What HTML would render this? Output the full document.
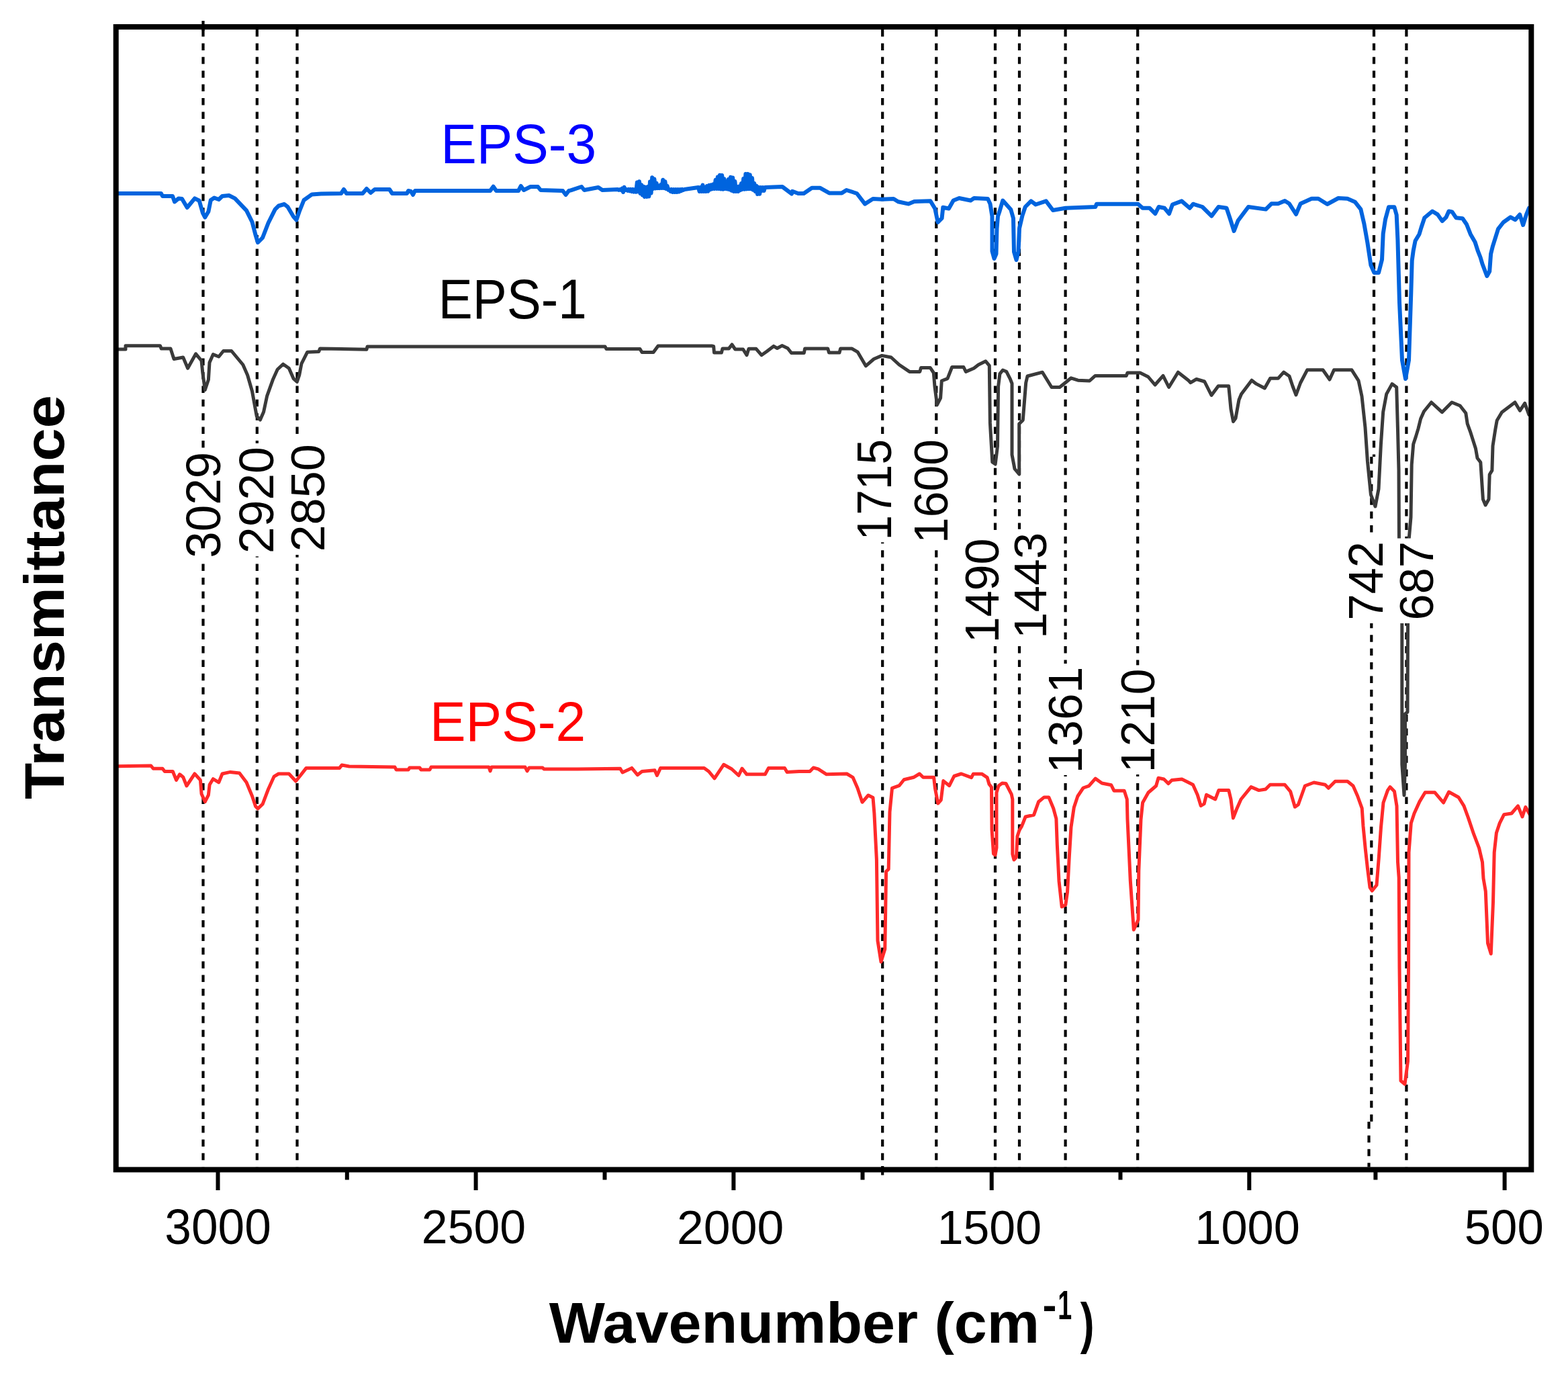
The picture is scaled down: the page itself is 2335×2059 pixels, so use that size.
<!DOCTYPE html><html><head><meta charset="utf-8"><title>FTIR spectra</title>
<style>html,body{margin:0;padding:0;background:#fff;}svg{display:block;}text{font-family:"Liberation Sans",Arial,sans-serif;}</style></head><body>
<svg width="2335" height="2059" viewBox="0 0 2335 2059">
<rect width="2335" height="2059" fill="#fff"/>
<g stroke="#000" stroke-width="4.2" stroke-dasharray="10.5 9.9" fill="none">
<line x1="302.5" y1="44.0" x2="302.5" y2="1737.4"/>
<line x1="382.8" y1="44.0" x2="382.8" y2="1737.4"/>
<line x1="442.5" y1="44.0" x2="442.5" y2="1737.4"/>
<line x1="1314.2" y1="44.0" x2="1314.2" y2="1737.4"/>
<line x1="1394.3" y1="44.0" x2="1394.3" y2="1737.4"/>
<line x1="1482.0" y1="44.0" x2="1482.0" y2="1737.4"/>
<line x1="1518.0" y1="44.0" x2="1518.0" y2="1737.4"/>
<line x1="1586.6" y1="44.0" x2="1586.6" y2="1737.4"/>
<line x1="1694.2" y1="44.0" x2="1694.2" y2="1737.4"/>
<line x1="2046" y1="44.0" x2="2046" y2="680"/>
<line x1="2042.3" y1="680" x2="2042.3" y2="1670"/>
<line x1="2038.5" y1="1670" x2="2038.5" y2="1737.4"/>
<line x1="2094.4" y1="44.0" x2="2094.4" y2="1737.4"/>
<line x1="302.5" y1="31" x2="302.5" y2="46" stroke-dasharray="none"/>
<line x1="1314.2" y1="1736" x2="1314.2" y2="1749.5" stroke-dasharray="none"/>
</g>
<g fill="none" stroke-linejoin="round" stroke-linecap="round">
<polyline stroke="#0064de" stroke-width="6" points="176.0,288.0 240.0,288.0 242.0,292.0 257.0,292.0 260.0,300.5 266.0,295.4 271.0,296.0 278.7,309.0 290.0,295.4 296.7,298.8 301.8,316.8 305.3,323.5 310.4,315.0 313.8,298.0 319.0,294.5 325.8,297.0 331.0,292.0 341.0,291.0 349.8,295.4 367.0,313.4 375.5,330.5 380.6,350.0 384.0,361.0 391.0,354.0 399.5,332.0 409.7,311.6 414.9,306.5 423.4,304.0 428.6,308.2 437.0,322.6 441.4,327.5 445.7,315.0 452.5,298.0 464.5,289.4 478.0,288.5 508.0,288.0 512.0,282.0 516.0,288.0 540.0,288.0 546.0,281.0 552.0,287.0 558.0,282.0 580.0,282.0 584.0,288.0 606.0,288.0 608.0,284.0 612.0,285.0 615.0,290.0 618.0,284.0 730.0,284.0 734.6,277.7 739.0,284.0 772.0,284.0 775.7,277.0 780.0,283.0 790.0,278.0 801.0,278.0 805.0,283.0 838.0,284.0 842.5,290.0 847.0,284.0 850.0,283.4 866.0,278.0 870.0,283.0 891.0,279.0 897.0,283.0 920.0,282.0 921.6,283.0 923.2,282.0 924.8,283.0 926.4,280.6 928.0,286.0 929.6,278.7 931.2,283.0 932.8,282.0 934.4,283.7 936.0,282.0 937.6,284.3 939.2,282.0 940.8,285.0 942.4,282.0 944.0,285.6 945.6,282.0 947.2,285.7 948.8,271.5 950.4,285.3 952.0,270.2 953.6,287.9 955.2,275.2 956.8,290.4 958.4,277.7 960.0,293.0 961.6,278.7 963.2,293.0 964.8,278.0 966.4,292.4 968.0,270.5 969.6,287.6 971.2,264.3 972.8,280.9 974.4,266.6 976.0,280.5 977.6,272.6 979.2,280.1 980.8,277.4 982.4,280.0 984.0,275.0 985.6,280.0 987.2,267.7 988.8,280.0 990.4,270.3 992.0,281.0 993.6,276.7 995.2,282.6 996.8,282.0 998.4,284.8 1000.0,282.0 1001.6,286.0 1003.2,282.0 1004.8,286.0 1006.4,282.0 1008.0,286.0 1009.6,282.0 1011.2,285.5 1012.8,282.0 1014.4,284.2 1016.0,282.0 1017.6,283.0 1019.2,282.0 1040.0,279.0 1041.6,285.0 1043.2,279.0 1044.8,285.0 1046.4,275.5 1048.0,285.0 1049.6,278.7 1051.2,285.0 1052.8,277.1 1054.4,284.7 1056.0,275.9 1057.6,282.3 1059.2,275.4 1060.8,281.3 1062.4,274.2 1064.0,281.0 1065.6,267.8 1067.2,281.0 1068.8,263.5 1070.4,281.1 1072.0,260.7 1073.6,281.6 1075.2,261.0 1076.8,281.8 1078.4,266.3 1080.0,281.0 1081.6,270.2 1083.2,281.5 1084.8,267.1 1086.4,282.2 1088.0,263.8 1089.6,283.8 1091.2,264.5 1092.8,285.0 1094.4,270.0 1096.0,285.0 1097.6,278.0 1099.2,285.0 1100.8,277.6 1102.4,283.2 1104.0,273.0 1105.6,281.9 1107.2,266.0 1108.8,281.7 1110.4,259.0 1112.0,281.4 1113.6,259.0 1115.2,281.2 1116.8,260.2 1118.4,281.2 1120.0,265.0 1121.6,282.8 1123.2,273.0 1124.8,285.0 1126.4,276.6 1128.0,289.0 1129.6,278.7 1131.2,288.7 1132.8,279.0 1134.4,284.0 1136.0,279.0 1137.6,284.0 1139.2,279.0 1165.0,278.0 1179.0,288.5 1180.0,284.8 1188.6,288.0 1197.0,288.0 1209.0,279.7 1221.0,279.7 1234.8,287.4 1253.6,287.4 1260.5,283.0 1276.0,288.0 1282.7,296.8 1288.0,303.6 1300.0,296.0 1313.6,296.8 1330.7,296.0 1337.5,300.2 1353.0,303.6 1361.5,300.0 1385.5,299.3 1392.3,310.5 1396.6,331.0 1402.6,325.0 1404.3,308.8 1412.9,310.5 1419.7,298.5 1428.3,295.0 1445.4,298.5 1450.5,295.0 1471.0,296.0 1474.5,303.6 1477.5,322.0 1477.5,374.0 1480.5,385.0 1483.5,378.0 1484.5,340.0 1486.0,322.0 1488.2,315.6 1493.3,298.5 1505.3,312.0 1509.0,325.0 1510.0,375.0 1513.5,387.0 1516.5,375.0 1518.0,340.0 1522.5,320.8 1526.8,308.0 1535.4,299.4 1542.3,304.5 1557.7,299.4 1568.0,313.0 1586.8,309.7 1631.3,308.0 1633.0,303.7 1694.7,303.7 1701.5,309.7 1711.8,309.7 1720.3,318.2 1725.5,308.0 1734.0,309.7 1741.0,318.2 1746.0,304.5 1759.7,299.4 1771.7,309.7 1776.8,303.7 1790.5,308.0 1804.2,321.6 1814.5,308.0 1826.5,309.7 1831.6,325.0 1837.6,344.0 1843.6,328.5 1859.0,308.0 1885.0,311.6 1893.3,303.3 1903.3,303.3 1913.3,299.0 1920.0,303.3 1930.0,319.0 1936.6,303.3 1953.2,295.8 1963.2,295.8 1976.5,304.0 1993.0,295.0 2006.5,295.8 2018.0,300.8 2026.4,311.6 2031.4,333.2 2036.4,361.5 2041.4,394.8 2046.4,406.0 2053.0,406.0 2058.0,386.5 2059.7,348.0 2063.0,326.6 2068.0,308.3 2076.4,308.3 2079.7,320.0 2081.4,356.5 2084.0,449.8 2088.0,536.3 2093.0,564.0 2098.0,536.3 2101.3,436.4 2102.7,387.8 2104.7,373.2 2107.6,358.5 2113.5,348.7 2116.4,339.0 2121.3,324.2 2133.0,314.5 2140.9,319.4 2147.7,329.1 2153.6,323.3 2157.5,314.5 2162.4,315.4 2168.3,324.2 2178.0,325.2 2184.0,334.0 2189.8,348.7 2196.6,360.5 2200.6,373.2 2204.5,383.0 2207.4,392.7 2214.3,411.0 2218.2,404.0 2220.1,378.0 2223.0,366.3 2227.0,353.6 2231.0,340.9 2238.7,331.0 2249.5,323.3 2256.3,327.2 2263.2,319.4 2268.1,335.0 2273.0,319.4 2277.0,309.6"/>
<polyline stroke="#3a3a3a" stroke-width="5" points="176.0,520.0 187.0,520.0 187.0,514.8 238.5,514.8 240.2,519.0 254.0,519.0 259.0,534.5 272.7,532.0 279.6,548.2 291.6,526.8 300.0,537.0 301.8,555.0 305.3,580.5 310.4,565.3 312.0,539.7 317.3,527.7 325.8,531.0 332.7,522.5 344.7,522.5 361.8,543.0 368.6,558.5 375.5,582.5 378.9,601.3 382.3,619.8 387.5,625.0 392.6,613.3 397.7,589.3 406.3,565.3 413.2,550.0 421.7,542.2 430.3,548.2 437.0,563.6 442.3,568.5 445.7,558.5 449.0,541.4 457.7,524.2 474.8,523.4 476.5,519.0 546.0,520.2 547.0,516.0 901.0,516.0 903.0,519.4 953.0,519.4 956.0,524.5 973.0,524.5 980.0,515.0 1060.6,515.0 1062.7,515.7 1063.5,525.1 1074.4,525.1 1076.0,518.9 1085.4,518.9 1090.0,513.0 1094.8,520.0 1106.5,520.0 1112.0,528.7 1115.0,519.3 1126.0,519.3 1134.0,528.7 1141.8,523.2 1152.0,515.4 1157.4,518.5 1164.5,514.6 1173.0,518.5 1178.5,525.5 1197.3,525.5 1198.6,519.1 1232.8,519.1 1234.5,525.1 1250.0,525.1 1251.6,519.1 1268.8,519.1 1277.3,524.2 1289.3,544.8 1301.3,534.5 1313.3,529.4 1327.0,532.0 1339.0,543.0 1354.4,553.4 1369.8,553.4 1371.5,547.4 1385.2,547.4 1390.3,555.0 1392.0,575.6 1395.5,602.7 1400.6,592.7 1402.3,567.0 1411.0,563.6 1417.7,546.5 1434.9,546.5 1438.3,553.4 1450.3,548.2 1457.1,543.0 1467.8,537.8 1473.3,544.4 1474.4,629.9 1477.8,688.0 1482.2,691.0 1485.5,664.3 1486.6,575.5 1488.9,556.6 1493.3,551.0 1498.8,553.3 1504.4,564.4 1507.0,571.0 1507.0,677.0 1511.0,698.0 1517.7,706.0 1517.7,631.0 1523.3,625.4 1525.5,597.7 1527.7,570.0 1530.0,560.0 1552.3,554.2 1566.0,576.5 1578.0,576.5 1586.5,569.7 1595.0,562.8 1605.3,566.2 1622.5,567.0 1631.0,559.4 1677.3,559.4 1679.0,555.0 1697.8,555.0 1709.8,561.0 1720.0,573.0 1732.0,559.4 1740.6,576.5 1754.3,554.2 1769.7,566.2 1773.0,569.7 1781.7,564.5 1793.7,568.0 1804.0,588.5 1814.2,574.8 1829.7,574.8 1833.0,609.0 1836.5,627.6 1840.0,622.7 1845.0,595.3 1848.5,586.8 1864.0,566.2 1870.7,571.4 1883.3,578.0 1891.6,563.3 1903.3,563.3 1911.6,554.1 1920.0,560.0 1925.0,575.0 1930.0,588.0 1936.6,570.0 1946.6,550.8 1970.0,550.8 1980.0,565.0 1986.5,550.8 2013.0,550.8 2023.0,566.6 2028.0,590.0 2033.0,636.5 2036.4,686.4 2041.4,736.4 2048.0,754.0 2053.0,728.0 2056.4,661.5 2059.7,613.2 2064.7,586.6 2073.0,571.6 2079.7,576.6 2081.4,636.5 2083.0,700.0 2083.5,816.0 2087.8,929.0 2087.8,1138.0 2091.0,1184.0 2092.5,1140.0 2092.5,1063.0 2096.0,1060.0 2096.5,929.0 2097.0,816.0 2101.0,770.0 2102.2,691.9 2104.7,661.3 2108.3,650.4 2112.0,638.1 2115.6,623.5 2120.5,612.5 2131.5,599.0 2147.4,613.7 2162.0,599.0 2174.2,604.0 2182.8,615.0 2185.2,630.8 2190.0,644.2 2197.4,667.4 2200.0,682.0 2204.8,688.2 2206.0,706.5 2208.4,743.2 2212.1,752.0 2217.0,743.2 2218.2,706.5 2221.9,700.4 2223.0,663.8 2226.8,639.4 2229.2,626.0 2236.5,613.7 2256.0,599.0 2263.4,611.3 2270.7,600.3 2276.8,617.4"/>
<polyline stroke="#ff2a2a" stroke-width="5" points="176.0,1140.8 224.8,1140.0 228.2,1144.2 242.0,1144.2 245.3,1148.5 257.3,1148.5 262.5,1161.4 267.6,1152.8 272.7,1157.0 277.9,1170.0 289.9,1152.0 298.4,1161.4 300.1,1182.0 305.3,1193.6 310.4,1183.6 312.1,1168.2 317.3,1159.7 325.8,1164.8 331.0,1152.0 343.0,1149.4 356.6,1151.0 367.0,1164.8 375.5,1185.3 380.6,1200.5 384.0,1203.9 391.0,1197.3 399.5,1175.0 408.0,1156.2 414.9,1152.0 430.3,1152.0 440.5,1163.0 447.4,1154.5 456.0,1143.4 505.6,1143.4 509.0,1139.0 520.0,1141.0 588.0,1142.0 590.0,1146.0 608.0,1146.0 610.0,1143.0 625.0,1143.0 627.0,1146.0 640.0,1146.0 642.0,1142.0 728.0,1142.0 730.0,1148.0 732.0,1142.0 782.0,1142.0 785.0,1148.0 788.0,1143.0 808.0,1143.0 810.0,1145.0 860.0,1145.0 923.6,1144.2 927.0,1150.0 940.8,1143.4 949.3,1153.7 956.0,1148.5 975.0,1146.8 978.4,1154.5 983.6,1143.4 1048.6,1143.4 1055.5,1148.5 1064.0,1158.8 1077.7,1138.3 1089.7,1145.0 1100.0,1154.5 1105.0,1144.2 1112.0,1152.8 1139.4,1152.8 1144.5,1143.4 1168.5,1143.4 1172.0,1149.4 1190.0,1148.4 1206.0,1148.4 1211.3,1143.0 1218.4,1144.9 1230.8,1152.8 1261.0,1152.0 1270.0,1157.3 1277.0,1173.3 1284.0,1194.3 1293.0,1184.0 1300.0,1187.5 1301.9,1210.6 1305.4,1279.8 1307.0,1400.5 1312.0,1432.0 1317.8,1413.0 1319.6,1297.6 1323.2,1294.0 1325.0,1208.8 1328.5,1173.3 1339.0,1169.7 1346.2,1160.8 1360.5,1157.3 1369.3,1152.0 1374.7,1157.3 1390.6,1157.3 1392.4,1173.3 1396.8,1196.1 1401.3,1191.0 1404.8,1162.6 1413.7,1169.7 1420.8,1155.5 1431.5,1152.0 1446.6,1157.7 1449.4,1152.2 1462.0,1152.2 1470.2,1157.7 1473.0,1167.5 1476.5,1172.0 1477.0,1235.0 1479.5,1271.0 1482.0,1273.0 1484.0,1262.0 1484.0,1180.0 1487.0,1170.0 1492.4,1166.0 1498.0,1166.5 1506.3,1182.7 1507.8,1190.0 1507.8,1271.5 1510.0,1280.0 1513.5,1276.0 1515.0,1245.0 1518.0,1236.0 1521.6,1229.9 1527.1,1216.0 1539.6,1213.2 1546.5,1193.8 1554.9,1186.9 1561.8,1186.9 1568.7,1203.5 1572.9,1218.8 1574.3,1257.6 1577.0,1311.7 1581.2,1350.0 1586.8,1347.2 1589.5,1328.4 1592.3,1275.7 1595.0,1231.3 1599.3,1202.1 1604.8,1185.5 1613.1,1173.0 1621.5,1170.2 1631.2,1159.1 1640.9,1166.0 1654.8,1168.8 1658.9,1177.2 1674.2,1177.2 1678.3,1190.0 1679.0,1219.9 1683.3,1311.4 1688.3,1384.3 1695.0,1369.3 1695.8,1296.4 1699.0,1219.9 1701.6,1195.0 1710.0,1180.0 1721.6,1170.0 1725.0,1158.3 1733.2,1160.0 1740.0,1166.6 1745.0,1161.6 1760.0,1160.0 1776.5,1168.3 1783.2,1183.3 1788.2,1199.6 1793.2,1196.6 1796.5,1183.3 1809.8,1190.0 1814.8,1176.6 1829.8,1176.6 1833.0,1190.0 1836.4,1217.9 1841.4,1205.0 1848.0,1190.0 1863.0,1171.6 1874.7,1176.6 1884.7,1175.0 1891.4,1168.3 1913.3,1168.3 1921.6,1178.3 1928.3,1201.3 1933.3,1198.0 1943.3,1170.0 1956.6,1165.0 1973.3,1168.3 1978.3,1173.3 1988.3,1163.3 2006.6,1163.3 2015.0,1170.0 2021.6,1185.0 2028.2,1203.3 2030.0,1230.0 2033.2,1263.2 2036.5,1293.2 2040.0,1321.2 2043.2,1326.2 2050.0,1317.8 2053.2,1278.2 2056.5,1231.6 2060.0,1195.0 2066.5,1176.6 2070.0,1171.6 2076.5,1178.3 2080.0,1200.0 2081.5,1283.2 2083.2,1306.5 2084.0,1440.0 2086.0,1609.0 2092.0,1614.0 2096.5,1580.0 2097.5,1440.0 2098.0,1269.0 2101.3,1225.6 2106.0,1211.0 2114.0,1193.4 2122.2,1179.8 2136.7,1179.8 2149.5,1195.0 2157.6,1179.0 2172.0,1187.0 2180.0,1199.9 2186.5,1217.6 2194.6,1241.7 2202.6,1262.6 2207.5,1283.6 2209.0,1307.7 2212.3,1327.0 2215.5,1404.2 2220.3,1420.0 2223.5,1343.0 2225.2,1269.0 2228.4,1240.0 2233.2,1225.6 2239.6,1212.8 2251.0,1211.0 2260.5,1199.9 2267.0,1216.0 2271.8,1201.5 2278.2,1212.8"/>
</g>
<rect x="272.4" y="668.2" width="60.9" height="167.8" fill="#fff"/>
<rect x="352.3" y="660.0" width="60.8" height="168.4" fill="#fff"/>
<rect x="428.6" y="655.9" width="60.2" height="170.1" fill="#fff"/>
<rect x="1272.5" y="648.7" width="60.3" height="158.7" fill="#fff"/>
<rect x="1356.4" y="648.7" width="60.3" height="163.0" fill="#fff"/>
<rect x="1432.9" y="796.2" width="59.7" height="163.8" fill="#fff"/>
<rect x="1504.6" y="787.8" width="59.0" height="165.8" fill="#fff"/>
<rect x="1556.3" y="988.0" width="60.1" height="166.0" fill="#fff"/>
<rect x="1665.0" y="990.3" width="59.6" height="162.7" fill="#fff"/>
<rect x="2003.5" y="801.5" width="60.4" height="126.4" fill="#fff"/>
<rect x="2079.4" y="801.5" width="60.4" height="126.4" fill="#fff"/>
<text transform="translate(327.58 830.70) rotate(-90) scale(1.0000 1.0130)" font-size="70.97" fill="#000">3029</text>
<text transform="translate(407.38 823.97) rotate(-90) scale(1.0000 1.0052)" font-size="71.38" fill="#000">2920</text>
<text transform="translate(483.09 821.61) rotate(-90) scale(1.0000 0.9823)" font-size="72.18" fill="#000">2850</text>
<text transform="translate(1327.08 804.55) rotate(-90) scale(1.0000 1.0635)" font-size="67.76" fill="#000">1715</text>
<text transform="translate(1410.99 809.00) rotate(-90) scale(1.0000 1.0193)" font-size="69.70" fill="#000">1600</text>
<text transform="translate(1486.90 957.33) rotate(-90) scale(1.0000 1.0017)" font-size="70.08" fill="#000">1490</text>
<text transform="translate(1557.91 951.01) rotate(-90) scale(1.0000 0.9721)" font-size="71.20" fill="#000">1443</text>
<text transform="translate(1610.69 1151.43) rotate(-90) scale(1.0000 0.9902)" font-size="71.46" fill="#000">1361</text>
<text transform="translate(1718.90 1150.29) rotate(-90) scale(1.0000 1.0072)" font-size="69.56" fill="#000">1210</text>
<text transform="translate(2058.90 923.49) rotate(-90) scale(1.0000 1.0249)" font-size="70.45" fill="#000">742</text>
<text transform="translate(2134.09 923.49) rotate(-90) scale(1.0000 1.0104)" font-size="70.45" fill="#000">687</text>
<rect x="172.7" y="40.0" width="2107.6" height="1701.4" fill="none" stroke="#000" stroke-width="8.0"/>
<g stroke="#000" stroke-width="6">
<line x1="324.5" y1="1741.4" x2="324.5" y2="1772"/>
<line x1="708.6" y1="1741.4" x2="708.6" y2="1772"/>
<line x1="1092.4" y1="1741.4" x2="1092.4" y2="1772"/>
<line x1="1476.7" y1="1741.4" x2="1476.7" y2="1772"/>
<line x1="1860.3" y1="1741.4" x2="1860.3" y2="1772"/>
<line x1="2240.6" y1="1741.4" x2="2240.6" y2="1772"/>
<line x1="516.8" y1="1741.4" x2="516.8" y2="1756.5"/>
<line x1="900.5" y1="1741.4" x2="900.5" y2="1756.5"/>
<line x1="1284.5" y1="1741.4" x2="1284.5" y2="1756.5"/>
<line x1="1668.5" y1="1741.4" x2="1668.5" y2="1756.5"/>
<line x1="2048.4" y1="1741.4" x2="2048.4" y2="1756.5"/>
</g>
<text transform="translate(245.29 1852.27) scale(1.0000 1.0306)" font-size="71.26" fill="#000">3000</text>
<text transform="translate(627.81 1851.29) scale(1.0000 1.0193)" font-size="69.84" fill="#000">2500</text>
<text transform="translate(1008.02 1851.89) scale(1.0000 0.9881)" font-size="71.62" fill="#000">2000</text>
<text transform="translate(1395.69 1852.29) scale(1.0000 1.0111)" font-size="69.84" fill="#000">1500</text>
<text transform="translate(1779.25 1852.29) scale(1.0000 1.0023)" font-size="70.46" fill="#000">1000</text>
<text transform="translate(2180.67 1852.28) scale(1.0000 1.0174)" font-size="70.80" fill="#000">500</text>
<text transform="translate(656.22 242.57) scale(1.0000 1.0362)" font-size="80.28" fill="#0000ff">EPS-3</text>
<text transform="translate(652.63 474.47) scale(1.0000 1.0873)" font-size="76.51" fill="#000000">EPS-1</text>
<text transform="translate(639.91 1103.27) scale(1.0000 1.0345)" font-size="80.42" fill="#ff0000">EPS-2</text>
<text transform="translate(94.56 1189.98) rotate(-90) scale(1.0000 0.9485)" font-size="88.79" font-weight="bold" fill="#000">Transmittance</text>
<text transform="translate(817.81 1998.85) scale(1.0000 0.9584)" font-size="88.01" font-weight="bold" fill="#000">Wavenumber (cm</text>
<text transform="translate(1552.44 1965.44) scale(1.0499 1.0364)" font-size="60.00" font-weight="bold" fill="#000">-</text>
<text transform="translate(1575.23 1964.00) scale(0.6272 1.0320)" font-size="60.00" font-weight="bold" fill="#000">1</text>
<text transform="translate(1608.84 1998.88) scale(0.7092 0.9573)" font-size="88.00" font-weight="bold" fill="#000">)</text>
</svg></body></html>
